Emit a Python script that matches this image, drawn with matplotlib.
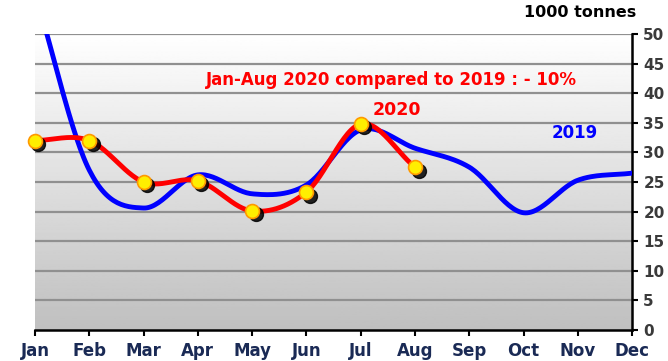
import numpy as np
import matplotlib.pyplot as plt
from matplotlib.transforms import offset_copy

months = ['Jan', 'Feb', 'Mar', 'Apr', 'May', 'Jun', 'Jul', 'Aug', 'Sep', 'Oct', 'Nov', 'Dec']
y2019 = [57, 27, 20.6, 26.2, 23.0, 24.5, 33.8, 30.7, 27.5, 19.8, 25.3, 26.5]
y2020 = [32, 32, 25, 25.2, 20.1, 23.3, 34.8, 27.5]
yticks = list(range(0, 55, 5))


def smooth(xs, ys, n=30, tension=0.5):
    # catmull-rom style smoothing like the spreadsheet "smoothed line" option
    xs = np.asarray(xs, float)
    ys = np.asarray(ys, float)
    px = np.concatenate([[2 * xs[0] - xs[1]], xs, [2 * xs[-1] - xs[-2]]])
    py = np.concatenate([[2 * ys[0] - ys[1]], ys, [2 * ys[-1] - ys[-2]]])
    outx, outy = [], []
    for i in range(1, len(px) - 2):
        t = np.linspace(0, 1, n)
        m1x = tension * (px[i + 1] - px[i - 1])
        m2x = tension * (px[i + 2] - px[i])
        m1y = tension * (py[i + 1] - py[i - 1])
        m2y = tension * (py[i + 2] - py[i])
        h00 = 2 * t**3 - 3 * t**2 + 1
        h10 = t**3 - 2 * t**2 + t
        h01 = -2 * t**3 + 3 * t**2
        h11 = t**3 - t**2
        outx.extend(h00 * px[i] + h10 * m1x + h01 * px[i + 1] + h11 * m2x)
        outy.extend(h00 * py[i] + h10 * m1y + h01 * py[i + 1] + h11 * m2y)
    return np.array(outx), np.array(outy)


fig = plt.figure(figsize=(6.68, 3.61), dpi=100, facecolor='white')
ax = fig.add_axes([0.0524, 0.0859, 0.894, 0.82])

x = np.arange(len(months))
ax.set_xlim(0, 11)
ax.set_ylim(0, 50)

# grey gradient backdrop
grad = np.linspace(0.75, 1.0, 256).reshape(-1, 1)
ax.imshow(grad, extent=[0, 11, 0, 50], origin='lower', cmap='gray',
          vmin=0, vmax=1, aspect='auto', zorder=0)

for v in yticks[1:]:
    ax.axhline(v, color='#909090', lw=1.6, zorder=1)

bx, by = smooth(x, y2019)
ax.plot(bx, by, color='#0000ff', lw=3.5, zorder=3, solid_capstyle='round')

x20 = x[:len(y2020)]
rx, ry = smooth(x20, y2020)
ax.plot(rx, ry, color='#ff0000', lw=3.5, zorder=4, solid_capstyle='round')

# dark drop shadow under the 2020 markers
shadow = offset_copy(ax.transData, fig=fig, x=2.5, y=-2.5, units='points')
ax.plot(x20, y2020, 'o', ms=10, color='black', alpha=0.85, transform=shadow,
        zorder=4.5, clip_on=False)
ax.plot(x20, y2020, 'o', ms=10, mfc='#ffee00', mec='#ff9900', mew=1.2, zorder=5,
        clip_on=False)

ax.yaxis.tick_right()
ax.set_yticks(yticks)
ax.set_xticks(x)
ax.set_xticklabels(months)
for s in ['left', 'top']:
    ax.spines[s].set_visible(False)
for s in ['right', 'bottom']:
    ax.spines[s].set_color('black')
    ax.spines[s].set_linewidth(1.8)
ax.tick_params(axis='y', direction='out', length=4, width=1.5, pad=4,
               labelsize=11, labelcolor='#3a3a3a')
ax.tick_params(axis='x', direction='out', length=4, width=1.5, pad=5,
               labelsize=12, labelcolor='#1a2a55')
for lab in ax.get_xticklabels() + ax.get_yticklabels():
    lab.set_fontweight('bold')

ax.text(6.56, 42.2, 'Jan-Aug 2020 compared to 2019 : - 10%', color='#ff0000',
        fontsize=12, fontweight='bold', ha='center', va='center', zorder=6)
ax.text(6.67, 37.2, '2020', color='#ff0000', fontsize=12.5, fontweight='bold',
        ha='center', va='center', zorder=6)
ax.text(9.95, 33.3, '2019', color='#0000ff', fontsize=12, fontweight='bold',
        ha='center', va='center', zorder=6)
fig.text(0.868, 0.964, '1000 tonnes', color='black', fontsize=11.5, fontweight='bold',
         ha='center', va='center')

fig.savefig('out.png', dpi=100)
